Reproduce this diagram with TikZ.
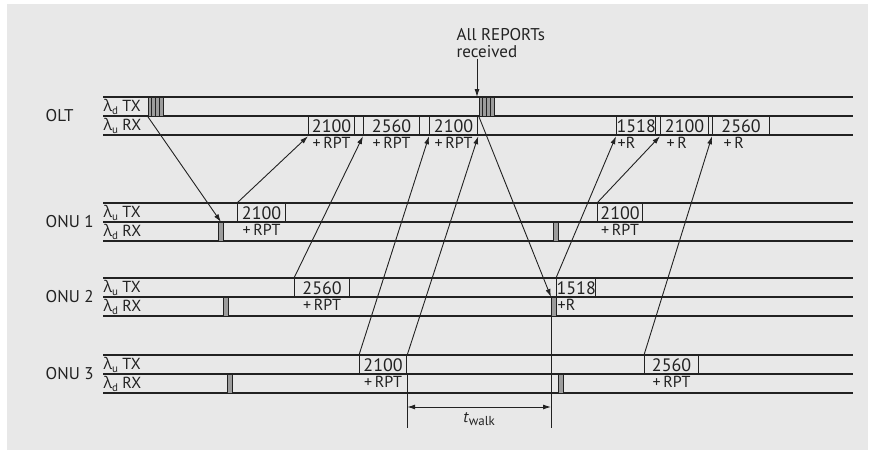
\documentclass[tikz,border=0pt]{standalone}
\usepackage{fontspec}
\setmainfont{PT Sans}
\newfontfamily\greekfont{Open Sans}
\usepackage{xcolor}
\usepackage{tikz}
\usetikzlibrary{arrows.meta}
\definecolor{panel}{HTML}{E8E8E8}
\definecolor{ink}{HTML}{222222}
\definecolor{burst}{HTML}{9C9C9C}
\newcommand{\lam}[1]{{\greekfont λ}\raisebox{-3pt}{\fontsize{11}{11}\selectfont #1}}

\begin{document}
\begin{tikzpicture}[
  x=1pt, y=-1pt,
  lane/.style={draw=ink, line width=1.2pt},
  slot/.style={draw=ink, line width=1.2pt, anchor=north west, minimum height=19pt, inner sep=0pt, text=ink, font=\fontsize{18}{18}\selectfont},
  rxmark/.style={draw=ink, fill=burst, line width=0.9pt, anchor=north west, minimum width=5pt, minimum height=19pt, inner sep=0pt},
  txburst/.style={draw=ink, fill=burst, line width=0.9pt, anchor=north west, minimum width=15pt, minimum height=19pt, inner sep=0pt},
  tag/.style={text=ink, inner sep=0.5pt, font=\fontsize{16}{16}\selectfont},
  big/.style={text=ink, inner sep=0.5pt, font=\fontsize{17}{17}\selectfont},
  sub/.style={label distance=0pt, text=ink, inner sep=0.5pt, font=\fontsize{16}{16}\selectfont},
  arr/.style={-{Latex[length=8pt, width=5pt]}, draw=ink, line width=0.9pt},
  dim/.style={{Latex[length=8pt, width=5pt]}-{Latex[length=8pt, width=5pt]}, draw=ink, line width=0.9pt}
]
\useasboundingbox (0,0) rectangle (875,453);
\fill[panel] (7,4) rectangle (868,450);

\foreach \y in {97,116,135,203,222,241,278,297,316,355,374,393}
  \draw[lane] (103,\y) -- (853,\y);

\node[big, anchor=west] (olt) at (45,116) {OLT};
\node[big, anchor=west] (onuone) at (45,222) {ONU 1};
\node[big, anchor=west] (onutwo) at (45,297) {ONU 2};
\node[big, anchor=west] (onuthree) at (45,374) {ONU 3};

\node[tag, anchor=west] (olttxl) at (103,106.5) {\lam{d} TX};
\node[tag, anchor=west] (oltrxl) at (103,125.5) {\lam{u} RX};
\node[tag, anchor=west] (onuonetxl) at (103,212.5) {\lam{u} TX};
\node[tag, anchor=west] (onuonerxl) at (103,231.5) {\lam{d} RX};
\node[tag, anchor=west] (onutwotxl) at (103,287.5) {\lam{u} TX};
\node[tag, anchor=west] (onutworxl) at (103,306.5) {\lam{d} RX};
\node[tag, anchor=west] (onuthreetxl) at (103,364.5) {\lam{u} TX};
\node[tag, anchor=west] (onuthreerxl) at (103,383.5) {\lam{d} RX};

% OLT
\node[txburst] (olttxA) at (148,97) {};
\node[txburst] (olttxB) at (479,97) {};
\foreach \n in {olttxA,olttxB}
  \foreach \i in {1,2,3}
    \draw[ink, line width=0.9pt] ([xshift=\i*3.75]\n.north west) -- ([xshift=\i*3.75]\n.south west);
\node[slot, minimum width=46pt, label={[sub]below:+\,RPT}] (oltrxA) at (308,116) {2100};
\node[slot, minimum width=56pt, label={[sub]below:+\,RPT}] (oltrxB) at (363,116) {2560};
\node[slot, minimum width=48pt, label={[sub]below:+\,RPT}] (oltrxC) at (429,116) {2100};
\node[slot, minimum width=39pt] (oltrxD) at (616,116) {1518};
\node[slot, minimum width=48pt] (oltrxE) at (660,116) {2100};
\node[slot, minimum width=57pt] (oltrxF) at (712,116) {2560};
\node[sub, anchor=north west] at ([xshift=1]oltrxD.south west) {+R};
\node[sub, anchor=north west] at ([xshift=6]oltrxE.south west) {+\,R};
\node[sub, anchor=north west] at ([xshift=11]oltrxF.south west) {+\,R};

% ONU 1
\node[rxmark] (onuonerxA) at (218,222) {};
\node[rxmark] (onuonerxB) at (553,222) {};
\node[slot, minimum width=48pt, label={[sub]below:+\,RPT}] (onuoneA) at (237,203) {2100};
\node[slot, minimum width=45pt, label={[sub]below:+\,RPT}] (onuoneB) at (597,203) {2100};

% ONU 2
\node[rxmark] (onutworxA) at (223,297) {};
\node[rxmark] (onutworxB) at (551,297) {};
\node[slot, minimum width=55pt, label={[sub]below:+\,RPT}] (onutwoA) at (294,278) {2560};
\node[slot, minimum width=39pt] (onutwoB) at (556,278) {1518};
\node[sub, anchor=north west] at ([xshift=1]onutwoB.south west) {+R};

% ONU 3
\node[rxmark] (onuthreerxA) at (227,374) {};
\node[rxmark] (onuthreerxB) at (558,374) {};
\node[slot, minimum width=47pt, label={[sub]below:+\,RPT}] (onuthreeA) at (359,355) {2100};
\node[slot, minimum width=54pt, label={[sub]below:+\,RPT}] (onuthreeB) at (644,355) {2560};

\draw[arr] (olttxA.south west) -- (onuonerxA.north);
\draw[arr] (onuoneA.north west) -- (oltrxA.south west);
\draw[arr] (onutwoA.north west) -- (oltrxB.south west);
\draw[arr] (onuthreeA.north west) -- (oltrxC.south west);
\draw[arr] (onuthreeA.north east) -- (oltrxC.south east);
\draw[arr] (olttxB.south west) -- (onutworxB.north west);
\draw[arr] (onutwoB.north west) -- (oltrxD.south west);
\draw[arr] (onuoneB.north west) -- (oltrxE.south west);
\draw[arr] (onuthreeB.north west) -- (oltrxF.south west);

\node[big, anchor=north west, align=left] (allrep) at (456,28) {All REPORTs\\received};
\coordinate (rcv) at (477,97);
\draw[arr] (allrep.south -| rcv) -- (rcv);

\coordinate (walkbot) at (0,428);
\coordinate (walkline) at (0,407);
\draw[ink, line width=0.9pt] (onuthreeA.south east) -- (onuthreeA.south east |- walkbot);
\draw[ink, line width=0.9pt] (onutworxB.north west) -- (onutworxB.north west |- walkbot);
\draw[dim] (onuthreeA.south east |- walkline) -- (onutworxB.north west |- walkline)
  node[midway, below=5pt, tag] (twalk) {\textit{t}\raisebox{-3pt}{\fontsize{13}{13}\selectfont walk}};
\end{tikzpicture}
\end{document}
